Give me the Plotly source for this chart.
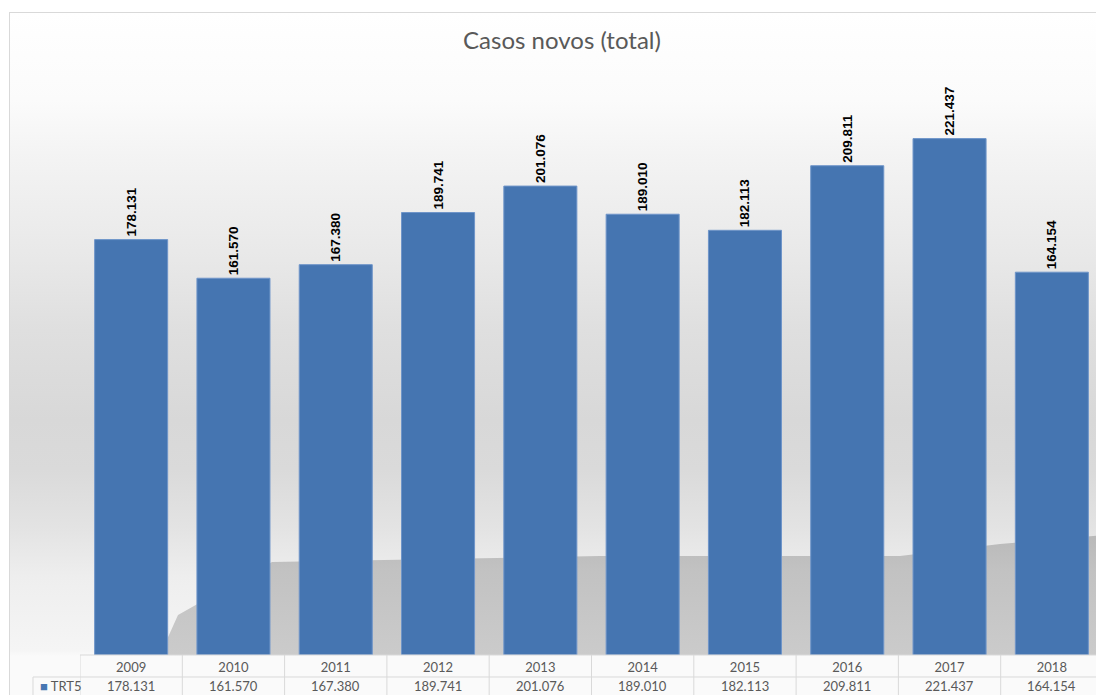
import base64
import plotly.graph_objects as go

# Casos novos (total) - TRT5
years = ['2009', '2010', '2011', '2012', '2013', '2014', '2015', '2016', '2017', '2018']
casos = [178131, 161570, 167380, 189741, 201076, 189010, 182113, 209811, 221437, 164154]
series_name = 'TRT5'

# the page body has an 8px margin, so the figure is drawn 8px in from the window corner
OFF = 8
W, H = 1104 - OFF, 695 - OFF
# plot area in window pixels
X0, X1, Y0, Y1 = 80, 1103, 72, 655
L, R, T, B = X0 - OFF, W - (X1 - OFF), Y0 - OFF, H - (Y1 - OFF)
PW, PH = W - L - R, H - T - B


def px_x(x):
    # window pixel column -> paper x
    return (x - X0) / PW


def px_y(y):
    # window pixel row -> paper y
    return (Y1 - y) / PH


def fmt(v):
    return f"{v:,}".replace(",", ".")


# background like the Excel chart area (vertical gradient + floor reflection)
bg_stops = [(12, '#ffffff'), (100, '#fbfbfb'), (160, '#f3f3f3'), (260, '#e8e8e8'),
            (330, '#dfdfdf'), (420, '#d8d8d8'), (470, '#dadada'), (527, '#e3e3e3'),
            (577, '#eeeeee'), (650, '#f5f5f5'), (656, '#fafafa'), (695, '#fafafa')]
stops = ''.join(f"<stop offset='{(y - 12) / 683:.4f}' stop-color='{c}'/>" for y, c in bg_stops)
svg = f"""<svg xmlns='http://www.w3.org/2000/svg' width='{W}' height='{H}' viewBox='{OFF} {OFF} {W} {H}'>
<defs>
<linearGradient id='g' gradientUnits='userSpaceOnUse' x1='0' y1='12' x2='0' y2='695'>{stops}</linearGradient>
<linearGradient id='f' gradientUnits='userSpaceOnUse' x1='0' y1='535' x2='0' y2='655'>
<stop offset='0' stop-color='#b9b9b9'/>
<stop offset='0.3' stop-color='#c2c2c2'/>
<stop offset='1' stop-color='#cbcbcb'/>
</linearGradient>
</defs>
<rect x='9.5' y='12.5' width='1200' height='800' fill='url(#g)' stroke='#d9d9d9' stroke-width='1'/>
<polygon points='160,655 178,615 272,562 600,556 900,556 1000,544 1104,535 1104,655' fill='url(#f)'/>
</svg>"""
bg_src = 'data:image/svg+xml;base64,' + base64.b64encode(svg.encode()).decode()

fig = go.Figure()
fig.add_trace(go.Bar(
    x=years, y=casos, name=series_name,
    marker=dict(color='#4575b1', line=dict(color='#6f95c9', width=1)),
    text=[fmt(v) for v in casos], texttemplate='<b>%{text}</b>',
    textposition='outside', textangle=-90, constraintext='none', cliponaxis=False,
    textfont=dict(family='Liberation Sans', size=13.5, color='black'),
))

grid = '#d9d9d9'
shapes = []
# data table grid
shapes.append(dict(type='line', xref='paper', yref='paper', x0=0, x1=1, y0=0, y1=0,
                   line=dict(color=grid, width=1)))
shapes.append(dict(type='line', xref='paper', yref='paper', x0=px_x(33), x1=1,
                   y0=px_y(677), y1=px_y(677), line=dict(color=grid, width=1)))
shapes.append(dict(type='line', xref='paper', yref='paper', x0=px_x(33), x1=px_x(33),
                   y0=px_y(677), y1=px_y(697), line=dict(color=grid, width=1)))
for i in range(len(years) + 1):
    shapes.append(dict(type='line', xref='x', yref='paper', x0=i - 0.5, x1=i - 0.5,
                       y0=0, y1=px_y(697), line=dict(color=grid, width=1)))

annotations = []
for i, v in enumerate(casos):
    annotations.append(dict(x=i, xref='x', y=px_y(686), yref='paper', yanchor='middle',
                            text=fmt(v), showarrow=False,
                            font=dict(family='Lato', size=13, color='#595959')))
annotations.append(dict(x=px_x(38), xref='paper', y=px_y(686), yref='paper', xanchor='left',
                        yanchor='middle', showarrow=False,
                        text="<span style='color:#4676b2'>■</span> " + series_name,
                        font=dict(family='Lato', size=13, color='#595959')))

fig.update_layout(
    width=W, height=H,
    margin=dict(l=L, r=R, t=T, b=B, autoexpand=False),
    paper_bgcolor='white', plot_bgcolor='rgba(0,0,0,0)',
    title=dict(text='Casos novos (total)', x=(562 - OFF) / W, xref='container', xanchor='center',
               y=1 - (41 - OFF) / H, yref='container', yanchor='middle',
               font=dict(family='Lato', size=24, color='#595959')),
    showlegend=False, bargap=0.286,
    xaxis=dict(type='category', range=[-0.5, len(years) - 0.5], showgrid=False, showline=False,
               zeroline=False, ticks='', automargin=False, ticklabelstandoff=3,
               tickfont=dict(family='Lato', size=13, color='#595959')),
    yaxis=dict(visible=False, range=[0, 250000]),
    shapes=shapes, annotations=annotations,
    images=[dict(source=bg_src, xref='paper', yref='paper', x=-L / PW, y=1 + T / PH,
                 sizex=W / PW, sizey=H / PH, xanchor='left', yanchor='top',
                 sizing='stretch', layer='below')],
)

fig.write_html("out.html")
